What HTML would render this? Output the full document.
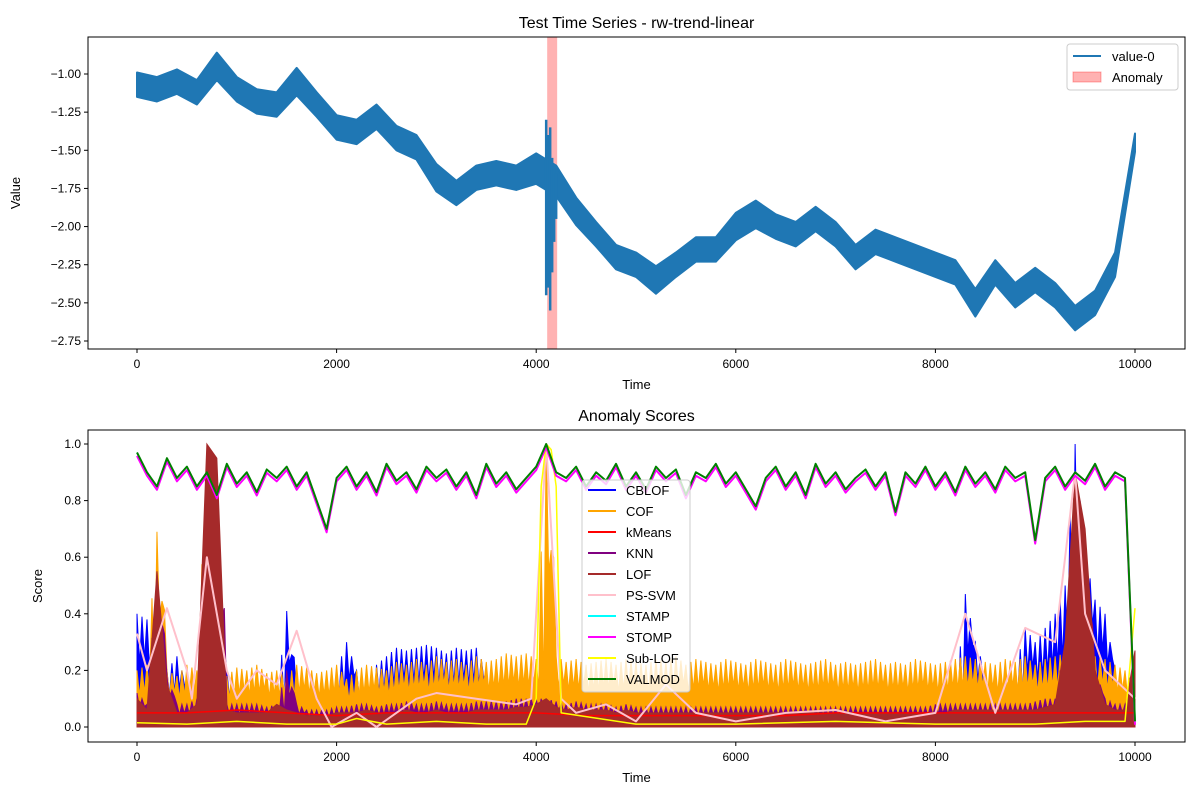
<!DOCTYPE html>
<html><head><meta charset="utf-8"><style>
body{margin:0;background:#fff;}
svg{display:block;font-family:"Liberation Sans","DejaVu Sans",sans-serif;}
</style></head><body>
<svg id="c" width="1200" height="800"></svg>
<script>
// ---- Top chart data (every 200 time units): mid value and half noise width
const topMid=[-1.07,-1.10,-1.05,-1.12,-0.95,-1.10,-1.18,-1.20,-1.05,-1.20,-1.35,-1.38,-1.28,-1.42,-1.48,-1.68,-1.78,-1.68,-1.65,-1.68,-1.62,-1.70,-1.90,-2.05,-2.20,-2.25,-2.35,-2.25,-2.15,-2.15,-2.00,-1.92,-2.00,-2.05,-1.95,-2.05,-2.20,-2.10,-2.15,-2.20,-2.25,-2.30,-2.50,-2.30,-2.45,-2.35,-2.45,-2.60,-2.50,-2.25,-1.45];
const topSpread=[0.08,0.08,0.08,0.08,0.09,0.08,0.08,0.08,0.09,0.08,0.08,0.08,0.08,0.08,0.08,0.09,0.08,0.08,0.08,0.08,0.10,0.10,0.09,0.08,0.08,0.08,0.09,0.08,0.08,0.08,0.09,0.09,0.08,0.08,0.08,0.08,0.08,0.08,0.08,0.08,0.08,0.08,0.09,0.08,0.08,0.08,0.08,0.08,0.08,0.08,0.06];
const spikeTimes=[4100,4120,4140,4160,4180,4200];
const spikeHigh=[-1.30,-1.40,-1.35,-1.55,-1.60,-1.65];
const spikeLow=[-2.45,-2.40,-2.55,-2.30,-2.10,-1.95];
const anomalyStart=4110, anomalyEnd=4210;
const xTicks=[0,2000,4000,6000,8000,10000];
const topYTicks=[-1.00,-1.25,-1.50,-1.75,-2.00,-2.25,-2.50,-2.75];
const botYTicks=[0.0,0.2,0.4,0.6,0.8,1.0];
// ---- Bottom chart data
const valmod=[0.97,0.90,0.85,0.95,0.88,0.92,0.85,0.90,0.82,0.93,0.86,0.90,0.83,0.91,0.88,0.92,0.85,0.90,0.80,0.70,0.88,0.92,0.85,0.90,0.83,0.93,0.87,0.90,0.84,0.92,0.88,0.91,0.85,0.90,0.82,0.93,0.86,0.90,0.84,0.88,0.92,1.00,0.90,0.88,0.92,0.85,0.90,0.87,0.93,0.85,0.90,0.84,0.92,0.88,0.91,0.82,0.90,0.88,0.93,0.86,0.90,0.84,0.78,0.88,0.92,0.85,0.90,0.82,0.93,0.86,0.90,0.84,0.88,0.91,0.85,0.90,0.76,0.90,0.86,0.92,0.85,0.90,0.83,0.92,0.86,0.90,0.84,0.92,0.88,0.90,0.66,0.88,0.92,0.85,0.90,0.87,0.93,0.85,0.90,0.88,0.02];
const cofTop=[0.20,0.22,0.69,0.20,0.18,0.22,0.20,0.95,0.20,0.18,0.21,0.20,0.22,0.19,0.20,0.18,0.22,0.21,0.19,0.20,0.22,0.17,0.20,0.22,0.21,0.20,0.23,0.22,0.24,0.22,0.25,0.23,0.24,0.22,0.25,0.23,0.24,0.26,0.25,0.26,0.24,1.00,0.25,0.23,0.24,0.22,0.23,0.24,0.22,0.24,0.23,0.22,0.24,0.23,0.25,0.22,0.24,0.23,0.22,0.24,0.23,0.22,0.24,0.23,0.22,0.24,0.23,0.22,0.23,0.24,0.22,0.23,0.22,0.23,0.24,0.22,0.23,0.22,0.24,0.23,0.22,0.23,0.24,0.25,0.24,0.23,0.22,0.24,0.23,0.25,0.22,0.24,0.25,0.26,0.30,0.28,0.25,0.24,0.22,0.20,0.10];
const cblofTop=[0.40,0.38,0.30,0.20,0.25,0.15,0.10,0.55,0.45,0.20,0.10,0.08,0.10,0.12,0.10,0.41,0.10,0.08,0.08,0.06,0.20,0.30,0.20,0.08,0.22,0.25,0.28,0.27,0.28,0.29,0.28,0.26,0.28,0.27,0.28,0.20,0.20,0.22,0.10,0.15,0.20,0.40,0.10,0.06,0.22,0.18,0.20,0.15,0.08,0.20,0.06,0.05,0.05,0.05,0.05,0.04,0.05,0.04,0.05,0.04,0.05,0.04,0.04,0.04,0.04,0.04,0.04,0.04,0.04,0.04,0.04,0.04,0.04,0.04,0.04,0.04,0.04,0.04,0.04,0.04,0.05,0.05,0.10,0.47,0.30,0.20,0.18,0.15,0.20,0.35,0.30,0.35,0.40,0.50,1.00,0.60,0.45,0.40,0.20,0.10,0.05];
const lofTop=[0.10,0.06,0.55,0.15,0.05,0.05,0.08,1.00,0.95,0.06,0.05,0.05,0.05,0.05,0.08,0.06,0.05,0.04,0.04,0.04,0.05,0.05,0.05,0.06,0.05,0.05,0.05,0.06,0.05,0.05,0.06,0.05,0.05,0.05,0.06,0.06,0.06,0.06,0.07,0.07,0.08,0.10,0.07,0.06,0.07,0.06,0.06,0.06,0.05,0.06,0.05,0.05,0.05,0.05,0.05,0.05,0.05,0.05,0.05,0.05,0.05,0.05,0.05,0.05,0.05,0.05,0.05,0.05,0.05,0.05,0.05,0.05,0.05,0.05,0.05,0.05,0.05,0.05,0.05,0.05,0.05,0.05,0.06,0.06,0.06,0.06,0.06,0.06,0.06,0.06,0.06,0.07,0.08,0.30,0.90,0.70,0.20,0.08,0.06,0.06,0.27];
const knnTop=[0.12,0.08,0.55,0.18,0.08,0.08,0.10,0.75,0.70,0.08,0.08,0.08,0.08,0.07,0.08,0.20,0.08,0.06,0.06,0.06,0.07,0.07,0.08,0.08,0.07,0.08,0.08,0.09,0.08,0.08,0.09,0.08,0.08,0.08,0.09,0.09,0.09,0.09,0.10,0.10,0.10,0.10,0.09,0.08,0.09,0.08,0.08,0.08,0.07,0.08,0.07,0.07,0.07,0.07,0.07,0.07,0.07,0.07,0.07,0.07,0.07,0.07,0.07,0.07,0.07,0.07,0.07,0.07,0.07,0.07,0.07,0.07,0.07,0.07,0.07,0.07,0.07,0.07,0.07,0.07,0.08,0.08,0.08,0.08,0.08,0.08,0.08,0.08,0.08,0.08,0.09,0.10,0.10,0.30,0.75,0.60,0.20,0.10,0.08,0.08,0.27];
const kmeans=[0.05,0.05,0.06,0.05,0.04,0.05,0.05,0.05,0.05,0.04,0.04,0.04,0.04,0.04,0.05,0.05,0.05,0.05,0.05,0.05,0.05];
const psvmT=[0,100,300,500,550,700,900,1000,1200,1400,1600,1800,1950,2200,2400,2600,2800,3000,3400,3800,3950,4100,4250,4400,4700,5000,5300,5600,6000,6500,7000,7500,8000,8300,8600,8900,9200,9400,9500,9700,10000];
const psvmV=[0.33,0.20,0.42,0.20,0.10,0.60,0.20,0.10,0.20,0.15,0.34,0.10,0.00,0.05,0.00,0.05,0.10,0.12,0.10,0.08,0.10,1.00,0.10,0.05,0.08,0.02,0.15,0.05,0.02,0.05,0.06,0.02,0.05,0.40,0.05,0.35,0.30,0.90,0.40,0.20,0.10];
const sublofT=[0,500,1000,1500,2000,2200,2500,3000,3500,3900,4000,4050,4100,4150,4200,4250,5000,6000,7000,8000,9000,9500,9900,10000];
const sublofV=[0.015,0.01,0.02,0.01,0.01,0.03,0.01,0.02,0.01,0.01,0.1,0.85,1.00,0.98,0.85,0.05,0.01,0.01,0.02,0.01,0.01,0.02,0.02,0.42];

const NS='http://www.w3.org/2000/svg', svg=document.getElementById('c');
function el(tag,attrs,parent,text){const e=document.createElementNS(NS,tag);for(const k in attrs)e.setAttribute(k,attrs[k]);if(text!==undefined)e.textContent=text;(parent||svg).appendChild(e);return e;}
const X0=88,X1=1185;
const xs=t=>137+t*(1135-137)/10000;
const ty=v=>74+(v+1.0)*(-(341-74)/1.75);
const by=v=>727-v*(727-444);
const tAt=(arr,i)=>i*10000/(arr.length-1);

function axes(top,bottom,title,ylab,ytitle,yt,yf,fmt){
  const f=el('rect',{x:X0,y:top,width:X1-X0,height:bottom-top,fill:'none',stroke:'#000','stroke-width':1});
  
  xTicks.forEach(t=>{const x=xs(t);el('line',{x1:x,x2:x,y1:bottom,y2:bottom+4,stroke:'#000'});
    const l=el('text',{x:x,y:bottom+19,'font-size':12,'text-anchor':'middle'},svg,String(t));
    });
  yt.forEach(v=>{const y=yf(v);el('line',{x1:X0-4,x2:X0,y1:y,y2:y,stroke:'#000'});
    const l=el('text',{x:X0-7,y:y+4,'font-size':12,'text-anchor':'end'},svg,fmt(v));
    });
  const t=el('text',{x:(X0+X1)/2,y:top-9,'font-size':16,'text-anchor':'middle'},svg,title);
  
  const xl=el('text',{x:(X0+X1)/2,y:bottom+40,'font-size':13,'text-anchor':'middle'},svg,'Time');
  
  const cy=(top+bottom)/2;
  const yl=el('text',{x:0,y:0,'font-size':13,'text-anchor':'middle',transform:`translate(${ylab},${cy}) rotate(-90)`},svg,ytitle);
  
}

// ---- Top chart
const clipT=el('clipPath',{id:'ct'});el('rect',{x:X0,y:37,width:X1-X0,height:312},clipT);
const gT=el('g',{'clip-path':'url(#ct)'});
const span=el('rect',{x:xs(anomalyStart),y:37,width:xs(anomalyEnd)-xs(anomalyStart),height:312,fill:'#ff0000','fill-opacity':0.3},gT);

let up='',dn='';
topMid.forEach((m,i)=>{const x=xs(tAt(topMid,i));up+=`${x},${ty(m+topSpread[i])} `;});
for(let i=topMid.length-1;i>=0;i--){const x=xs(tAt(topMid,i));dn+=`${x},${ty(topMid[i]-topSpread[i])} `;}
const band=el('polygon',{points:up+dn,fill:'#1f77b4',stroke:'#1f77b4','stroke-width':2,'stroke-linejoin':'round'},gT);

spikeTimes.forEach((t,i)=>{
  const s=el('line',{x1:xs(t),x2:xs(t),y1:ty(spikeHigh[i]),y2:ty(spikeLow[i]),stroke:'#1f77b4','stroke-width':2.5},gT);
  
});
axes(37,349,'Test Time Series - rw-trend-linear',20,'Value',topYTicks,ty,v=>v.toFixed(2).replace('-','\u2212'));
const lg=el('g',{});
el('rect',{x:1067,y:44,width:111,height:46,rx:3,fill:'#fff',stroke:'#ccc'},lg);
el('line',{x1:1073,x2:1101,y1:56,y2:56,stroke:'#1f77b4','stroke-width':2},lg);
el('text',{x:1112,y:61,'font-size':13},lg,'value-0');
el('rect',{x:1073,y:72,width:28,height:10,fill:'#ff0000','fill-opacity':0.3,stroke:'#ff0000','stroke-opacity':0.3},lg);
el('text',{x:1112,y:82,'font-size':13},lg,'Anomaly');

// ---- Bottom chart
const clipB=el('clipPath',{id:'cb'});el('rect',{x:X0,y:430,width:X1-X0,height:312},clipB);
const gB=el('g',{'clip-path':'url(#cb)'});
function area(arr,color,name,jag){
  let p=`${xs(0)},${by(0)} `;
  arr.forEach((v,i)=>{const t=tAt(arr,i);p+=`${xs(t)},${by(v)} `;if(jag&&i<arr.length-1){p+=`${xs(t+25)},${by(v*0.55)} `;p+=`${xs(t+50)},${by((v+arr[i+1])/2)} `;p+=`${xs(t+75)},${by(v*0.6)} `;}});
  p+=`${xs(10000)},${by(0)}`;
  const e=el('polygon',{points:p,fill:color,stroke:color,'stroke-width':1},gB);
  
}
function line(ts,vs,color,name,w){
  const pts=vs.map((v,i)=>`${xs(ts[i])},${by(v)}`).join(' ');
  const e=el('polyline',{points:pts,fill:'none',stroke:color,'stroke-width':w||1.5,'stroke-linejoin':'round'},gB);
  
}
area(cblofTop,'#0000ff','cblof-series',true);
area(cofTop,'#ffa500','cof-series',true);
area(knnTop,'#800080','knn-series',true);
area(lofTop,'#a52a2a','lof-series',false);
line(kmeans.map((v,i)=>tAt(kmeans,i)),kmeans,'#ff0000','kmeans-series');
line(psvmT,psvmV,'#ffc0cb','ps-svm-series',2);
line(sublofT,sublofV,'#ffff00','sub-lof-series',1.5);
const vt=valmod.map((v,i)=>tAt(valmod,i));
line(vt,valmod.map(v=>v-0.012),'#ff00ff','stomp-series',2);
line(vt,valmod,'#00ffff','stamp-series',1);
line(vt,valmod,'#008000','valmod-series',2);
axes(430,742,'Anomaly Scores',42,'Score',botYTicks,by,v=>v.toFixed(1));

const names=['CBLOF','COF','kMeans','KNN','LOF','PS-SVM','STAMP','STOMP','Sub-LOF','VALMOD'];
const cols=['#0000ff','#ffa500','#ff0000','#800080','#a52a2a','#ffc0cb','#00ffff','#ff00ff','#ffff00','#008000'];
const lb=el('g',{});
el('rect',{x:582,y:480,width:108,height:212,rx:3,fill:'#fff','fill-opacity':0.8,stroke:'#ccc'},lb);
names.forEach((n,i)=>{const y=490+i*21;
  const s=el('line',{x1:588,x2:616,y1:y,y2:y,stroke:cols[i],'stroke-width':2},lb);
  
  const t=el('text',{x:626,y:y+5,'font-size':13},lb,n);
  });
</script>
</body></html>
